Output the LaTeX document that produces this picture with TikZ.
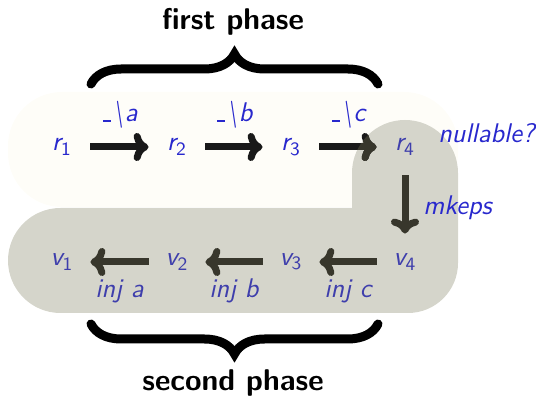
\documentclass[tikz,border=0pt]{standalone}
\usepackage{fontspec}
\usetikzlibrary{arrows.meta,decorations.pathreplacing}
\definecolor{txtblue}{RGB}{40,40,205}
\definecolor{dimblue}{RGB}{62,62,172}
\definecolor{creamfill}{RGB}{254,253,248}
\definecolor{bgray}{RGB}{213,213,203}
\definecolor{dimarr}{RGB}{56,55,44}
\newcommand\mysub[1]{\textsubscript{\upshape #1}}
\newcommand\myus{\kern.06em\vbox{\hrule width .3em height .05em}}
\begin{document}
\begin{tikzpicture}[x=0.5pt,y=0.5pt,
  lbl/.style={font=\sffamily\itshape\fontsize{13.5}{16}\selectfont, text=txtblue, inner sep=0pt},
  dim/.style={text=dimblue},
  st/.style={lbl, circle, minimum size=28pt},
  arr/.style={line width=3.5pt, black!90, -{Computer Modern Rightarrow[round,length=7.5pt,width=14pt]}},
  darr/.style={arr, dimarr},
  brc/.style={decorate, decoration={brace, amplitude=15pt}, line width=4.5pt, line cap=round},
  phase/.style={font=\sffamily\bfseries\fontsize{15}{18}\selectfont, inner sep=0pt}]
\useasboundingbox (0,0) rectangle (536,396);
% first-phase background
\fill[creamfill, rounded corners=27pt] (8,189) rectangle (458,304);
% second-phase background
\fill[bgray] (60.5,83) -- (408,83) arc[start angle=-90,end angle=0,radius=50]
  -- (458,223) arc[start angle=0,end angle=180,radius=53]
  -- (352,188) -- (60.5,188) arc[start angle=90,end angle=270,radius=52.5] -- cycle;
% nodes
\node[st] (r1) at (62,249) {r\mysub{1}};
\node[st] (r2) at (177,249) {r\mysub{2}};
\node[st] (r3) at (291,249) {r\mysub{3}};
\node[st, dim] (r4) at (405,249) {r\mysub{4}};
\node[st, dim] (v1) at (62,134) {v\mysub{1}};
\node[st, dim] (v2) at (177,134) {v\mysub{2}};
\node[st, dim] (v3) at (291,134) {v\mysub{3}};
\node[st, dim] (v4) at (405,134) {v\mysub{4}};
% arrows
\draw[arr] (r1) -- (r2) node[midway, lbl, yshift=16pt] (la) {\myus\textbackslash a};
\draw[arr] (r2) -- (r3) node[midway, lbl, yshift=16pt] (lb) {\myus\textbackslash b};
\draw[arr] (r3) -- (r4) node[midway, lbl, yshift=16pt] (lc) {\myus\textbackslash c};
\begin{scope}
  \clip (60.5,83) -- (408,83) arc[start angle=-90,end angle=0,radius=50]
  -- (458,223) arc[start angle=0,end angle=180,radius=53]
  -- (352,188) -- (60.5,188) arc[start angle=90,end angle=270,radius=52.5] -- cycle;
  \draw[darr] (r3) -- (r4);
\end{scope}
\draw[darr] (r4) -- (v4);
\draw[darr] (v4) -- (v3) node[midway, lbl, dim, yshift=-14.5pt] (ic) {inj c};
\draw[darr] (v3) -- (v2) node[midway, lbl, dim, yshift=-14.5pt] (ib) {inj b};
\draw[darr] (v2) -- (v1) node[midway, lbl, dim, yshift=-14.5pt] (ia) {inj a};
\node[lbl, anchor=west] (nul) at (438,263) {nullable?};
\node[lbl, anchor=west] (mk) at (423,188) {mkeps};
% braces
\draw[brc] (91,312) -- (378,312);
\draw[brc] (378,72) -- (91,72);
\node[phase] (p1) at (233,374) {first phase};
\node[phase] (p2) at (233,13) {second phase};
\end{tikzpicture}
\end{document}
